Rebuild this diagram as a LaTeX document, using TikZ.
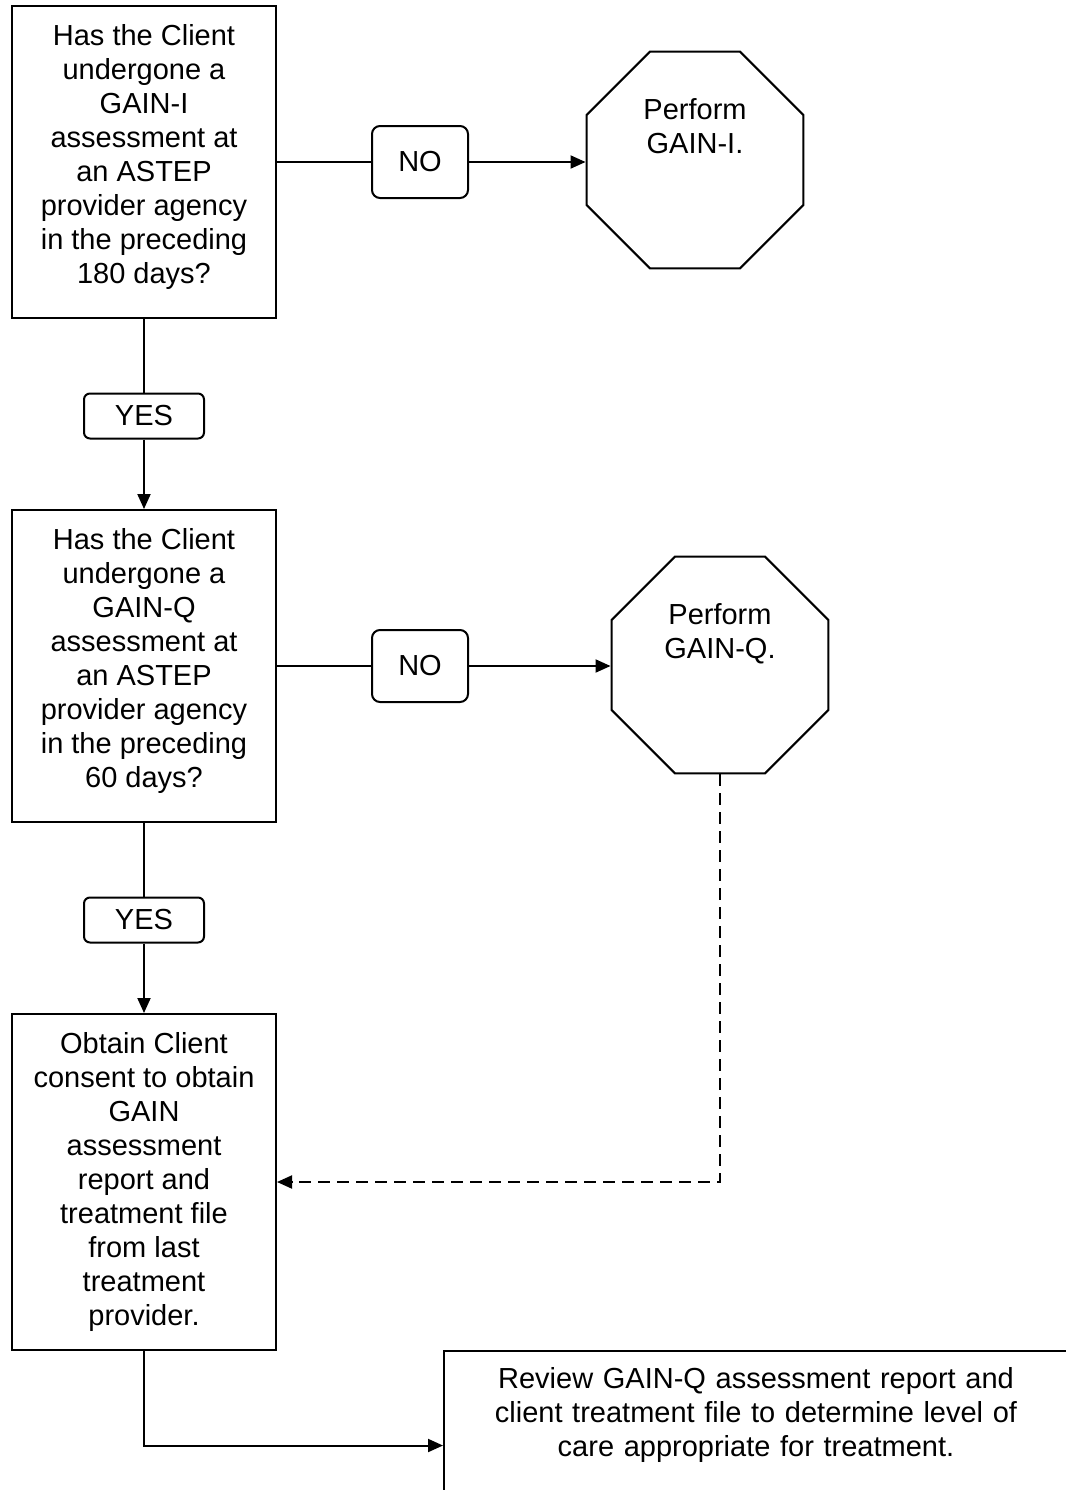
\documentclass[tikz,border=0pt]{standalone}
\usepackage{fontspec}
\setmainfont{Liberation Sans}
\usepackage{tikz}
\usetikzlibrary{arrows.meta,shapes.geometric,positioning,calc}

\begin{document}
\begin{tikzpicture}[x=0.5pt,y=-0.5pt,font=\fontsize{14.5}{17}\selectfont,
question/.style={rectangle,draw,line width=1pt,inner sep=0pt,minimum width=132pt,minimum height=156pt,align=center},
answer/.style={rectangle,rounded corners=4pt,draw,line width=1pt,inner sep=0pt,minimum width=48pt,minimum height=36pt},
reply/.style={rectangle,rounded corners=3pt,draw,line width=1pt,inner sep=0pt,minimum width=60pt,minimum height=22.5pt},
octagon/.style={regular polygon,regular polygon sides=8,draw,line width=1pt,inner sep=0pt,minimum size=117.4pt,align=center},
action/.style={rectangle,draw,line width=1pt,inner xsep=0pt,inner ysep=8pt,text width=312pt,align=center},
edge/.style={line width=1pt,-{Triangle[length=7.5pt,width=6.5pt]}},
plain/.style={line width=1pt},
dashededge/.style={line width=1pt,dash pattern=on 6pt off 3.5pt,-{Triangle[length=7.5pt,width=6.5pt]}}]
\useasboundingbox (0,0) rectangle (1066,1490);

\node (q1)[question] at (144,162) {Has the Client\\undergone a\\GAIN-I\\assessment at\\an ASTEP\\provider agency\\in the preceding\\180 days?\\[-9pt]~};
\node (no1)[answer] at (420,162) {NO};
\node (gaini)[octagon] at (695,160) {Perform\\GAIN-I.\\~\\~};
\node (yes1)[reply] at (144,416) {YES};

\node (q2)[question] at (144,666) {Has the Client\\undergone a\\GAIN-Q\\assessment at\\an ASTEP\\provider agency\\in the preceding\\60 days?\\[-9pt]~};
\node (no2)[answer] at (420,666) {NO};
\node (gainq)[octagon] at (720,665) {Perform\\GAIN-Q.\\~\\~};
\node (yes2)[reply] at (144,920) {YES};

\node (consent)[question,minimum height=168pt] at (144,1182) {Obtain Client\\consent to obtain\\GAIN\\assessment\\report and\\treatment file\\from last\\treatment\\provider.};
\node (review)[action,anchor=north west] at (443,1350) {Review GAIN-Q assessment report and\\client treatment file to determine level of\\care appropriate for treatment.\\~\\~};

\draw [plain] (q1.east) to (no1.west);
\draw [edge] (no1.east) to (no1.east -| gaini.west);
\draw [plain] (q1.south) to (yes1.north);
\draw [edge] (yes1.south) to (q2.north);
\draw [plain] (q2.east) to (no2.west);
\draw [edge] (no2.east) to (no2.east -| gainq.west);
\draw [plain] (q2.south) to (yes2.north);
\draw [edge] (yes2.south) to (consent.north);
\draw [dashededge] (gainq.south) |- (consent.east);
\draw [edge] (consent.south) |- (review.west);
\end{tikzpicture}
\end{document}
